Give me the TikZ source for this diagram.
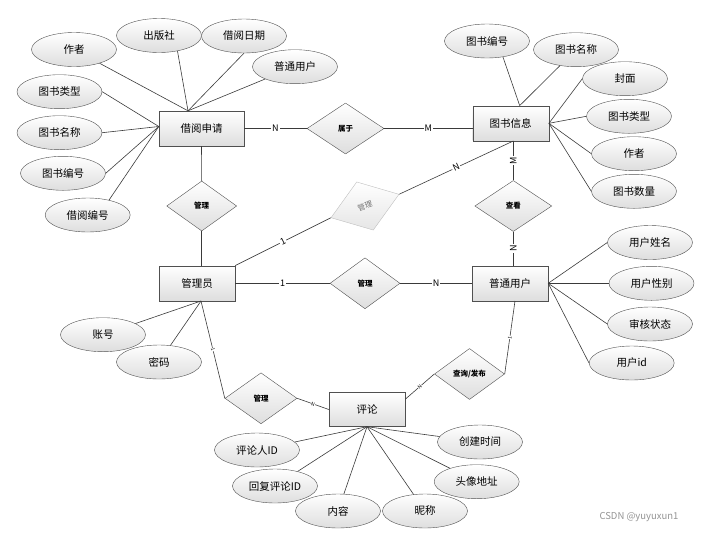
\documentclass[tikz,border=0pt]{standalone}
\usepackage{fontspec}
\setmainfont{Noto Sans CJK SC}
\usetikzlibrary{shapes.geometric}
\definecolor{lineGray}{HTML}{3A3A3A}
\definecolor{boxGray}{HTML}{505050}

\begin{document}
\begin{tikzpicture}[x=1pt,y=-1pt,%%
  lineStyle/.style={-,draw=lineGray,semithick},%%
  entityStyle/.style={draw=boxGray,rectangle,minimum width=76pt,minimum height=35pt,inner sep=0pt,top color=white,bottom color=black!13,font=\fontsize{10.5}{12}\selectfont},%%
  attrStyle/.style={draw=boxGray,ellipse,minimum width=85pt,minimum height=34pt,inner sep=0pt,top color=white,bottom color=black!13,font=\fontsize{10.5}{12}\selectfont},%%
  relStyle/.style={draw=boxGray,diamond,minimum width=71pt,minimum height=51pt,inner sep=0pt,top color=white,bottom color=black!13,font=\fontsize{7.5}{9}\selectfont\bfseries},%%
  cardStyle/.style={fill=white,inner sep=1pt,font=\fontsize{9}{10}\selectfont},%%
  tickStyle/.style={fill=white,inner sep=0.3pt,sloped,font=\fontsize{5}{6}\selectfont}
]
%%
\useasboundingbox (0,0) rectangle (710,539);
%%
%% Entities.
%%
\node[entityStyle,minimum width=85pt] (borrow) at (201.5,128.5) {借阅申请};
\node[entityStyle] (book) at (510.7,123.3) {图书信息};
\node[entityStyle] (admin) at (197,283.3) {管理员};
\node[entityStyle] (user) at (510,283.3) {普通用户};
\node[entityStyle,minimum height=34pt] (comment) at (367,409.5) {评论};
%%
%% Relations.
%%
\node[relStyle,minimum width=77pt] (belong) at (345.5,128.5) {属于};
\node[relStyle,minimum width=70pt,minimum height=50pt] (manageA) at (201.7,206) {管理};
\node[relStyle,rotate=19,minimum width=72pt,draw=gray!50,text=black!55,bottom color=black!10,font=\fontsize{7.5}{9}\selectfont] (manageB) at (365,206) {管理};
\node[relStyle,minimum width=77pt] (view) at (513.3,206) {查看};
\node[relStyle,minimum width=70pt] (manageC) at (365,283.3) {管理};
\node[relStyle,minimum width=72pt] (manageD) at (261,398.3) {管理};
\node[relStyle,minimum width=70pt] (query) at (469.5,374) {查询/发布};
%%
%% Attributes of the borrow request.
%%
\node[attrStyle] (bAuthor) at (74,49.5) {作者};
\node[attrStyle] (bPress) at (159,35.5) {出版社};
\node[attrStyle] (bDate) at (244,36) {借阅日期};
\node[attrStyle] (bUser) at (295,66.7) {普通用户};
\node[attrStyle] (bType) at (59.5,91.7) {图书类型};
\node[attrStyle] (bName) at (59.5,132.7) {图书名称};
\node[attrStyle] (bBookNo) at (63,173.3) {图书编号};
\node[attrStyle] (bBorrowNo) at (87.7,215) {借阅编号};
%%
%% Attributes of the book.
%%
\node[attrStyle] (tNo) at (487,41) {图书编号};
\node[attrStyle] (tName) at (576,49.7) {图书名称};
\node[attrStyle] (tCover) at (625,78.7) {封面};
\node[attrStyle] (tType) at (629,116.3) {图书类型};
\node[attrStyle] (tAuthor) at (634,153.7) {作者};
\node[attrStyle] (tCount) at (634,191.3) {图书数量};
%%
%% Attributes of the admin and the user.
%%
\node[attrStyle] (aAccount) at (103,334.7) {账号};
\node[attrStyle] (aPassword) at (159,362) {密码};
\node[attrStyle] (uName) at (650,242.5) {用户姓名};
\node[attrStyle] (uGender) at (651.5,283.3) {用户性别};
\node[attrStyle] (uState) at (650,324) {审核状态};
\node[attrStyle] (uId) at (631.7,363) {用户id};
%%
%% Attributes of the comment.
%%
\node[attrStyle] (cUser) at (257,450) {评论人ID};
\node[attrStyle] (cReply) at (275,486) {回复评论ID};
\node[attrStyle] (cText) at (338,511) {内容};
\node[attrStyle] (cNick) at (425,511) {昵称};
\node[attrStyle] (cAvatar) at (476.7,481.7) {头像地址};
\node[attrStyle] (cTime) at (480,442) {创建时间};
%%
\node[text=gray!85,font=\fontsize{9.5}{11}\selectfont] (mark) at (639,517) {CSDN @yuyuxun1};
%%
%% Connection points.
%%
\coordinate (borrowTop) at ([xshift=-13.5pt]borrow.north);
\coordinate (borrowLeft) at ([yshift=2pt]borrow.west);
\coordinate (bookTop) at ([xshift=9pt]book.north);
\coordinate (bookBottom) at (book.south -| view);
\coordinate (adminBottom) at ([xshift=4pt]admin.south);
\coordinate (userBottom) at ([xshift=5pt]user.south);
%%
%% Attribute lines.
%%
\draw[lineStyle] (bAuthor) -- (borrowTop);
\draw[lineStyle] (bPress.-40) -- (borrowTop);
\draw[lineStyle] (bDate.south) -- (borrowTop);
\draw[lineStyle] (bUser) -- (borrowTop);
\draw[lineStyle] (bType.east) -- (borrowLeft);
\draw[lineStyle] (bName.east) -- (borrowLeft);
\draw[lineStyle] (bBookNo.east) -- (borrowLeft);
\draw[lineStyle] (bBorrowNo.35) -- (borrowLeft);
\draw[lineStyle] (tNo.-45) -- (bookTop);
\draw[lineStyle] (tName) -- (bookTop);
\draw[lineStyle] (tCover.west) -- (book.east);
\draw[lineStyle] (tType.west) -- (book.east);
\draw[lineStyle] (tAuthor.west) -- (book.east);
\draw[lineStyle] (tCount.west) -- (book.east);
\draw[lineStyle] (aAccount) -- (adminBottom);
\draw[lineStyle] (aPassword) -- (adminBottom);
\draw[lineStyle] (uName.west) -- (user.east);
\draw[lineStyle] (uGender.west) -- (user.east);
\draw[lineStyle] (uState.west) -- (user.east);
\draw[lineStyle] (uId.west) -- (user.east);
\draw[lineStyle] (cUser) -- (comment.south);
\draw[lineStyle] (cReply) -- (comment.south);
\draw[lineStyle] (cText) -- (comment.south);
\draw[lineStyle] (cNick) -- (comment.south);
\draw[lineStyle] (cAvatar) -- (comment.south);
\draw[lineStyle] (cTime) -- (comment.south);
%%
%% Relation lines.
%%
\draw[lineStyle] (borrow.east) -- node[cardStyle] {N} (belong.west);
\draw[lineStyle] (belong.east) -- node[cardStyle] {M} (belong.east -| book.west);
\draw[lineStyle] (borrow.south) -- (manageA.north);
\draw[lineStyle] (manageA.south) -- (manageA.south |- admin.north);
\draw[lineStyle] (admin.north east) -- node[cardStyle,sloped] {1} (manageB.west);
\draw[lineStyle] (manageB.east) -- node[cardStyle,sloped] {N} (bookBottom);
\draw[lineStyle] (bookBottom) -- node[cardStyle,rotate=90] {M} (view.north);
\draw[lineStyle] (view.south) -- node[cardStyle,rotate=90] {N} (view.south |- user.north);
\draw[lineStyle] (admin.east) -- node[cardStyle] {1} (manageC.west);
\draw[lineStyle] (manageC.east) -- node[cardStyle] {N} (user.west);
\draw[lineStyle] (adminBottom) -- node[tickStyle] {1} (manageD.west);
\draw[lineStyle] (manageD.east) -- node[tickStyle] {N} (comment.west);
\draw[lineStyle] (comment.15) -- node[tickStyle] {N} (query.west);
\draw[lineStyle] (query.east) -- node[tickStyle] {1} (userBottom);
\end{tikzpicture}
\end{document}
